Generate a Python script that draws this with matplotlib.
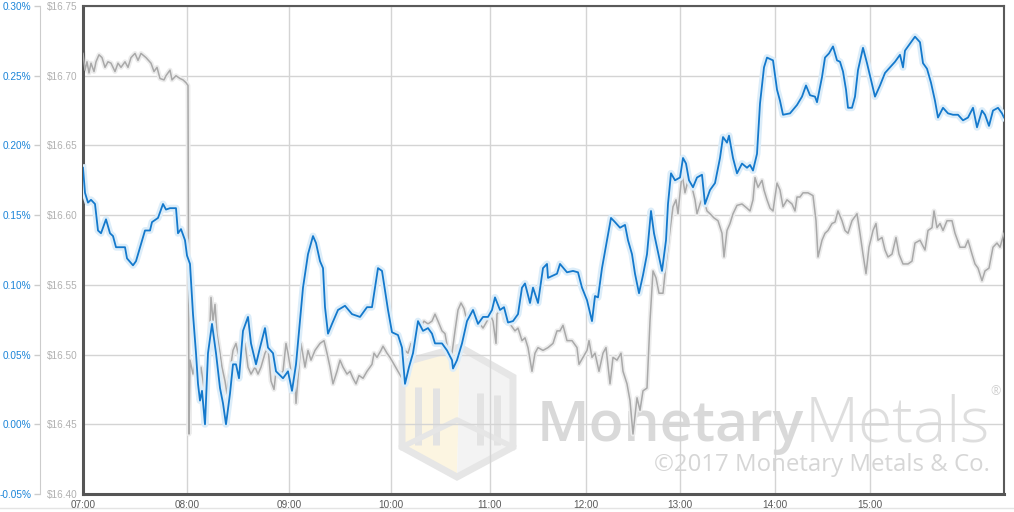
import numpy as np
import matplotlib
matplotlib.use("Agg")
import matplotlib.pyplot as plt
from matplotlib.patches import Polygon

# x positions are sample indices along the trading day (07:00 .. ~15:55)
hour_pos = [0, 104, 206, 308, 407, 503, 597, 692, 787]
hour_labels = ['07:00', '08:00', '09:00', '10:00', '11:00', '12:00',
               '13:00', '14:00', '15:00']
x_end = 921

# blue series: silver basis in percent
basis_x = [0, 2, 5, 8, 12, 15, 18, 23, 27, 30, 33, 42, 44, 50, 53, 62, 67, 69,
           75, 80, 83, 87, 93, 95, 98, 102, 104, 107, 110, 113, 115, 117, 119,
           122, 125, 129, 133, 137, 140, 143, 147, 150, 153, 156, 160, 165, 168,
           173, 177, 182, 185, 190, 193, 200, 205, 209, 213, 217, 220, 225, 230,
           233, 237, 240, 242, 245, 249, 255, 262, 269, 277, 284, 289, 292, 295,
           299, 302, 305, 309, 315, 319, 322, 326, 330, 335, 340, 345, 349, 352,
           359, 364, 369, 370, 374, 379, 384, 390, 395, 400, 405, 409, 412, 417,
           421, 425, 430, 435, 439, 442, 447, 450, 455, 460, 464, 465, 474, 477,
           484, 490, 495, 499, 504, 509, 512, 515, 519, 524, 528, 532, 537, 542,
           545, 549, 552, 556, 560, 564, 568, 571, 574, 579, 583, 585, 588, 592,
           597, 600, 603, 606, 610, 614, 619, 622, 627, 632, 637, 640, 644, 646,
           650, 654, 659, 664, 667, 670, 674, 677, 681, 684, 690, 694, 697, 700,
           707, 714, 719, 723, 727, 732, 734, 739, 742, 746, 750, 754, 757, 760,
           763, 765, 769, 772, 775, 780, 784, 788, 792, 797, 802, 807, 812, 817,
           820, 822, 827, 832, 837, 840, 844, 848, 852, 855, 860, 865, 870, 875,
           880, 885, 890, 894, 899, 902, 906, 910, 915, 919, 921]
basis = [0.184, 0.166, 0.159, 0.161, 0.158, 0.139, 0.137, 0.147, 0.137, 0.135,
         0.127, 0.127, 0.119, 0.114, 0.117, 0.139, 0.139, 0.145, 0.148, 0.158,
         0.154, 0.155, 0.155, 0.137, 0.140, 0.132, 0.121, 0.115, 0.079, 0.051,
         0.029, 0.017, 0.024, 0.000, 0.051, 0.072, 0.051, 0.026, 0.015, 0.000,
         0.022, 0.043, 0.043, 0.033, 0.067, 0.077, 0.058, 0.043, 0.055, 0.069,
         0.055, 0.051, 0.038, 0.033, 0.038, 0.024, 0.043, 0.074, 0.098, 0.122,
         0.135, 0.130, 0.117, 0.112, 0.084, 0.065, 0.072, 0.082, 0.085, 0.079,
         0.077, 0.084, 0.084, 0.098, 0.112, 0.110, 0.096, 0.082, 0.066, 0.064,
         0.055, 0.029, 0.041, 0.051, 0.074, 0.067, 0.069, 0.065, 0.058, 0.058,
         0.053, 0.046, 0.040, 0.046, 0.058, 0.074, 0.082, 0.072, 0.077, 0.077,
         0.082, 0.091, 0.082, 0.084, 0.073, 0.074, 0.079, 0.098, 0.101, 0.087,
         0.098, 0.087, 0.112, 0.115, 0.105, 0.108, 0.115, 0.109, 0.110, 0.109,
         0.098, 0.089, 0.074, 0.092, 0.091, 0.112, 0.132, 0.148, 0.145, 0.141,
         0.143, 0.132, 0.122, 0.108, 0.094, 0.107, 0.122, 0.153, 0.137, 0.127,
         0.110, 0.132, 0.158, 0.180, 0.175, 0.177, 0.191, 0.187, 0.175, 0.170,
         0.177, 0.179, 0.158, 0.168, 0.173, 0.191, 0.206, 0.202, 0.207, 0.191,
         0.180, 0.187, 0.184, 0.186, 0.182, 0.194, 0.230, 0.256, 0.263, 0.261,
         0.240, 0.232, 0.222, 0.223, 0.229, 0.235, 0.243, 0.236, 0.235, 0.231,
         0.249, 0.263, 0.266, 0.271, 0.261, 0.260, 0.253, 0.240, 0.227, 0.227,
         0.235, 0.254, 0.270, 0.259, 0.247, 0.235, 0.243, 0.252, 0.256, 0.260,
         0.265, 0.256, 0.268, 0.273, 0.278, 0.274, 0.259, 0.255, 0.245, 0.232,
         0.220, 0.227, 0.223, 0.222, 0.222, 0.218, 0.220, 0.227, 0.213, 0.225,
         0.222, 0.214, 0.225, 0.227, 0.223, 0.220]

# gray series: silver price in dollars
price_x = [0, 2, 4, 6, 8, 11, 13, 16, 19, 22, 25, 28, 32, 35, 38, 42, 45, 48,
           52, 55, 58, 63, 68, 71, 74, 77, 81, 83, 87, 89, 93, 97, 100, 103, 105,
           106, 107, 110, 113, 116, 118, 121, 124, 126, 128, 130, 132, 134, 137,
           139, 142, 144, 147, 150, 153, 155, 158, 162, 165, 168, 172, 175, 178,
           182, 185, 188, 191, 193, 197, 200, 203, 205, 208, 212, 213, 215, 218,
           222, 225, 228, 232, 237, 241, 244, 247, 250, 254, 257, 260, 264, 267,
           270, 273, 276, 280, 284, 289, 291, 294, 298, 300, 304, 307, 311, 315,
           319, 322, 325, 328, 330, 334, 337, 341, 345, 349, 352, 355, 359, 362,
           365, 369, 372, 375, 378, 381, 384, 387, 391, 395, 400, 404, 407, 410,
           413, 414, 419, 422, 427, 432, 435, 439, 442, 445, 449, 452, 455, 460,
           465, 470, 474, 477, 480, 484, 489, 494, 496, 500, 504, 506, 509, 512,
           516, 520, 523, 527, 530, 534, 538, 540, 544, 547, 550, 554, 557, 560,
           564, 567, 570, 573, 576, 580, 583, 587, 590, 593, 595, 599, 602, 605,
           609, 612, 614, 617, 620, 624, 627, 631, 635, 639, 641, 644, 647, 650,
           654, 659, 664, 667, 670, 672, 675, 679, 681, 684, 687, 690, 694, 697,
           700, 704, 709, 712, 714, 717, 720, 725, 730, 733, 735, 739, 742, 745,
           749, 752, 755, 759, 762, 765, 769, 774, 777, 780, 783, 786, 790, 793,
           795, 799, 802, 805, 809, 813, 816, 820, 825, 829, 832, 837, 842, 845,
           849, 851, 854, 857, 860, 864, 869, 872, 877, 882, 885, 889, 892, 895,
           899, 902, 906, 910, 914, 917, 921]
price = [16.716, 16.704, 16.710, 16.702, 16.709, 16.703, 16.710, 16.715, 16.713,
         16.706, 16.710, 16.709, 16.703, 16.709, 16.706, 16.710, 16.706, 16.713,
         16.716, 16.711, 16.716, 16.713, 16.709, 16.703, 16.706, 16.698, 16.697,
         16.700, 16.704, 16.697, 16.700, 16.698, 16.697, 16.695, 16.693, 16.443,
         16.496, 16.486, 16.498, 16.479, 16.491, 16.476, 16.486, 16.503, 16.541,
         16.524, 16.536, 16.515, 16.501, 16.491, 16.481, 16.472, 16.488, 16.503,
         16.508, 16.501, 16.496, 16.508, 16.491, 16.486, 16.491, 16.486, 16.491,
         16.501, 16.505, 16.481, 16.475, 16.488, 16.486, 16.488, 16.508, 16.501,
         16.488, 16.481, 16.465, 16.483, 16.508, 16.491, 16.503, 16.496, 16.503,
         16.508, 16.510, 16.501, 16.491, 16.479, 16.488, 16.496, 16.491, 16.486,
         16.488, 16.483, 16.479, 16.485, 16.483, 16.488, 16.493, 16.501, 16.498,
         16.503, 16.506, 16.501, 16.498, 16.493, 16.488, 16.483, 16.503, 16.501,
         16.508, 16.501, 16.515, 16.519, 16.524, 16.522, 16.524, 16.529, 16.524,
         16.517, 16.515, 16.503, 16.501, 16.517, 16.532, 16.537, 16.533, 16.524,
         16.527, 16.528, 16.524, 16.519, 16.524, 16.529, 16.524, 16.508, 16.529,
         16.534, 16.524, 16.522, 16.517, 16.519, 16.510, 16.512, 16.505, 16.488,
         16.501, 16.505, 16.503, 16.505, 16.508, 16.517, 16.517, 16.521, 16.510,
         16.510, 16.505, 16.493, 16.498, 16.503, 16.510, 16.498, 16.501, 16.488,
         16.501, 16.505, 16.479, 16.498, 16.496, 16.501, 16.488, 16.479, 16.467,
         16.443, 16.469, 16.460, 16.474, 16.476, 16.524, 16.560, 16.555, 16.544,
         16.544, 16.565, 16.589, 16.606, 16.611, 16.601, 16.630, 16.616, 16.625,
         16.620, 16.611, 16.601, 16.608, 16.613, 16.603, 16.601, 16.598, 16.596,
         16.587, 16.570, 16.589, 16.594, 16.601, 16.607, 16.608, 16.605, 16.603,
         16.611, 16.627, 16.620, 16.625, 16.618, 16.611, 16.605, 16.603, 16.623,
         16.618, 16.606, 16.611, 16.608, 16.603, 16.613, 16.613, 16.616, 16.616,
         16.614, 16.596, 16.570, 16.582, 16.587, 16.589, 16.594, 16.595, 16.603,
         16.596, 16.589, 16.587, 16.596, 16.601, 16.587, 16.572, 16.558, 16.577,
         16.589, 16.594, 16.582, 16.584, 16.575, 16.570, 16.572, 16.584, 16.572,
         16.565, 16.565, 16.567, 16.580, 16.582, 16.575, 16.589, 16.591, 16.603,
         16.591, 16.594, 16.589, 16.596, 16.596, 16.587, 16.577, 16.577, 16.582,
         16.572, 16.565, 16.562, 16.553, 16.560, 16.562, 16.577, 16.580, 16.577,
         16.587]

price_ticks = [16.40, 16.45, 16.50, 16.55, 16.60, 16.65, 16.70, 16.75]
pct_ticks = [-0.05, 0.00, 0.05, 0.10, 0.15, 0.20, 0.25, 0.30]

W, H = 1014, 512
fig = plt.figure(figsize=(W / 100, H / 100), dpi=100)
fig.patch.set_facecolor('white')

# watermark layer in pixel coordinates, under the chart
bg = fig.add_axes([0, 0, 1, 1], zorder=0)
bg.set_xlim(0, W)
bg.set_ylim(H, 0)
bg.axis('off')
hexa = [(460, 347), (513, 377), (513, 447), (457, 477), (402, 447), (402, 363)]
bg.add_patch(Polygon([(460, 347), (457, 477), (402, 447), (402, 363)],
                     closed=True, fc='#fcf5e1', ec='none'))
bg.add_patch(Polygon([(460, 347), (513, 377), (513, 447), (457, 477)],
                     closed=True, fc='#f3f3f3', ec='none'))
bg.add_patch(Polygon(hexa, closed=True, fc='none', ec='#e6e6e6', lw=5))
for bx in [418, 436, 480, 497]:
    bg.plot([bx, bx], [385 + (bx - 402) * 0.1, 445], color='#e3e3e3', lw=5,
            solid_capstyle='butt')
bg.plot([402, 457, 513], [447, 420, 447], color='#e6e6e6', lw=4)
bg.text(537, 441, 'Monetary', fontsize=41, family='Open Sans',
        weight='semibold', color='#d9d9d9', ha='left', va='baseline')
bg.text(990, 441, 'Metals', fontsize=45, family='Open Sans',
        weight='light', color='#dedede', ha='right', va='baseline')
bg.text(996, 392, '®', fontsize=9, family='Open Sans', color='#d0d0d0',
        ha='center', va='center')
bg.text(990, 471, '©2017 Monetary Metals & Co.', fontsize=17.3,
        family='Open Sans', color='#d6d6d6', ha='right', va='baseline')
bg.plot([0, W], [507.5, 507.5], color='#e4e4e4', lw=1)

ax = fig.add_axes([83 / W, 18 / H, 921 / W, 488 / H], zorder=1)
ax.patch.set_alpha(0)
ax2 = ax.twinx()

ax.set_xlim(0, x_end)
ax.set_ylim(16.40, 16.75)
ax2.set_ylim(-0.05, 0.30)

ax.grid(True, color='#d4d4d4', lw=1)
ax.set_axisbelow(True)

# price line (gray) with soft shadow
ax.plot(price_x, price, color='#ececec', lw=3.5, zorder=2,
        solid_joinstyle='round')
ax.plot(price_x, price, color='#a9a9a9', lw=1.1, zorder=3)

# basis line (blue) with glow
ax2.plot(basis_x, basis, color='#dcedf9', lw=5, zorder=2,
         solid_joinstyle='round')
ax2.plot(basis_x, basis, color='#1479cc', lw=1.3, zorder=3)

ax.set_xticks(hour_pos)
ax.set_xticklabels(hour_labels, family='Liberation Sans')
ax.tick_params(axis='x', length=0, pad=4, labelsize=7.2, labelcolor='#5a5a5a')

ax.set_yticks(price_ticks)
ax.set_yticklabels(['$%.2f' % v for v in price_ticks], family='Liberation Sans')
ax.tick_params(axis='y', length=0, pad=4, labelsize=7.2, labelcolor='#b0b0b0')

ax2.yaxis.set_ticks_position('left')
ax2.yaxis.set_label_position('left')
ax2.spines['left'].set_position(('outward', 31))
ax2.spines['left'].set_color('#cccccc')
ax2.spines['right'].set_visible(False)
ax2.spines['top'].set_visible(False)
ax2.spines['bottom'].set_visible(False)
ax2.set_yticks(pct_ticks)
ax2.set_yticklabels(['%.2f%%' % v for v in pct_ticks], family='Liberation Sans')
ax2.tick_params(axis='y', length=4, width=1, color='#cccccc', pad=2,
                labelsize=7.2, labelcolor='#1a84d8')

for side in ['left', 'bottom']:
    ax.spines[side].set_color('#555555')
    ax.spines[side].set_linewidth(2.2)
for side in ['top', 'right']:
    ax.spines[side].set_color('#5a5a5a')
    ax.spines[side].set_linewidth(1.5)

fig.savefig('out.png', dpi=100)
